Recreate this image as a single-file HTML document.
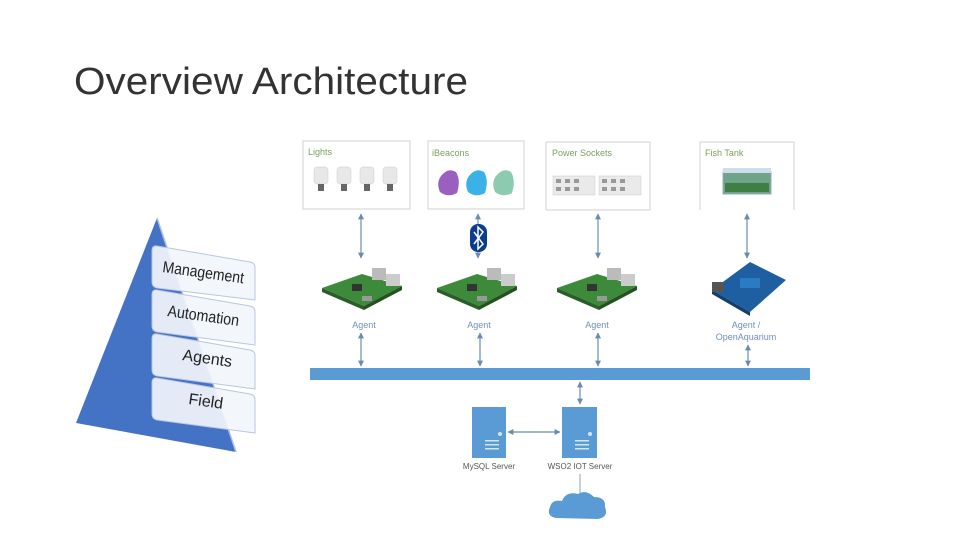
<!DOCTYPE html>
<html><head><meta charset="utf-8"><style>
html,body{margin:0;padding:0;background:#fff;}
svg{display:block;font-family:"Liberation Sans",sans-serif;}
</style></head><body>
<svg width="960" height="540" viewBox="0 0 960 540" xmlns="http://www.w3.org/2000/svg">
<defs>
<marker id="a" viewBox="0 0 10 10" refX="9" refY="5" markerWidth="5" markerHeight="5" orient="auto-start-reverse"><path d="M0,0L10,5L0,10z" fill="#6a8bb0"/></marker>
<g id="pi">
 <polygon points="0,22 40,8 80,20 42,40" fill="#3d8a3a"/>
 <polygon points="0,22 42,40 42,44 0,26" fill="#2a5e28"/>
 <polygon points="42,40 80,20 80,24 42,44" fill="#24521f"/>
 <rect x="50" y="2" width="14" height="12" fill="#bbb"/>
 <rect x="64" y="8" width="14" height="12" fill="#ccc"/>
 <rect x="30" y="18" width="10" height="7" fill="#333"/>
 <rect x="40" y="30" width="10" height="5" fill="#999"/>
</g>
</defs>
<text x="74" y="94" font-size="38" fill="#333" textLength="394" lengthAdjust="spacingAndGlyphs">Overview Architecture</text>

<!-- pyramid -->
<polygon points="157,218 76,423 236,452" fill="#4472c4"/>
<line x1="157" y1="218" x2="236" y2="452" stroke="#a9bfe6" stroke-width="1.5"/>
<g fill="#f2f5fb" fill-opacity="0.92" stroke="#b7c6e0" stroke-width="1">
<path d="M157,246 L250,262 Q255,263 255,268 L255,300 L157,288 Q152,287 152,282 L152,251 Q152,245 157,246z"/>
<path d="M157,290 L250,306 Q255,307 255,312 L255,345 L157,332 Q152,331 152,326 L152,295 Q152,289 157,290z"/>
<path d="M157,334 L250,350 Q255,351 255,356 L255,389 L157,376 Q152,375 152,370 L152,339 Q152,333 157,334z"/>
<path d="M157,378 L250,394 Q255,395 255,400 L255,433 L157,420 Q152,419 152,414 L152,383 Q152,377 157,378z"/>
</g>
<g font-size="16" fill="#222">
<text x="162" y="272" transform="rotate(8 162 272)" textLength="82" lengthAdjust="spacingAndGlyphs">Management</text>
<text x="167" y="316" transform="rotate(8 167 316)" textLength="72" lengthAdjust="spacingAndGlyphs">Automation</text>
<text x="182" y="360" transform="rotate(8 182 360)">Agents</text>
<text x="188" y="404" transform="rotate(8 188 404)">Field</text>
</g>

<!-- device boxes -->
<g fill="#fff" stroke="#d0d0d0" stroke-width="1">
<rect x="303" y="141" width="107" height="68"/>
<rect x="428" y="141" width="96" height="68"/>
<rect x="546" y="142" width="104" height="68"/>
<path d="M700,210 L700,142 L794,142 L794,210" fill="#fff"/>
</g>
<g font-size="9" fill="#7aa05a">
<text x="308" y="155">Lights</text>
<text x="432" y="156">iBeacons</text>
<text x="552" y="156">Power Sockets</text>
<text x="705" y="156">Fish Tank</text>
</g>
<g>
<g fill="#e8e8e8" stroke="#ccc" stroke-width="0.5">
<rect x="314" y="167" width="14" height="17" rx="3"/><rect x="337" y="167" width="14" height="17" rx="3"/>
<rect x="360" y="167" width="14" height="17" rx="3"/><rect x="383" y="167" width="14" height="17" rx="3"/>
</g>
<g fill="#666"><rect x="318" y="184" width="6" height="7"/><rect x="341" y="184" width="6" height="7"/><rect x="364" y="184" width="6" height="7"/><rect x="387" y="184" width="6" height="7"/></g>
</g>
<path d="M441,176 Q448,167 456,172 Q461,180 457,193 Q448,198 440,192 Q436,183 441,176z" fill="#9b5fbf"/>
<path d="M469,176 Q476,167 484,172 Q489,180 485,193 Q476,198 468,192 Q464,183 469,176z" fill="#3ab2e6"/>
<path d="M496,176 Q503,167 511,172 Q516,180 512,193 Q503,198 495,192 Q491,183 496,176z" fill="#8ccbb0"/>
<rect x="553" y="176" width="42" height="19" fill="#eaeaea" stroke="#ccc" stroke-width="0.5"/>
<rect x="599" y="176" width="42" height="19" fill="#eaeaea" stroke="#ccc" stroke-width="0.5"/>
<g fill="#999"><rect x="556" y="179" width="5" height="4"/><rect x="565" y="179" width="5" height="4"/><rect x="574" y="179" width="5" height="4"/><rect x="556" y="187" width="5" height="4"/><rect x="565" y="187" width="5" height="4"/><rect x="574" y="187" width="5" height="4"/>
<rect x="602" y="179" width="5" height="4"/><rect x="611" y="179" width="5" height="4"/><rect x="620" y="179" width="5" height="4"/><rect x="602" y="187" width="5" height="4"/><rect x="611" y="187" width="5" height="4"/><rect x="620" y="187" width="5" height="4"/></g>
<rect x="723" y="172" width="48" height="22" fill="#6fa38a" stroke="#9ab" stroke-width="1"/>
<rect x="723" y="168" width="48" height="5" fill="#cde"/>
<rect x="725" y="183" width="44" height="9" fill="#3f7f46"/>

<g stroke="#6a8bb0" stroke-width="1.2" marker-start="url(#a)" marker-end="url(#a)">
<line x1="361" y1="214" x2="361" y2="258"/>
<line x1="478" y1="214" x2="478" y2="258"/>
<line x1="598" y1="214" x2="598" y2="258"/>
<line x1="747" y1="214" x2="747" y2="258"/>
<line x1="361" y1="333" x2="361" y2="366"/>
<line x1="480" y1="333" x2="480" y2="366"/>
<line x1="598" y1="333" x2="598" y2="366"/>
<line x1="748" y1="345" x2="748" y2="366"/>
<line x1="580" y1="382" x2="580" y2="404"/>
<line x1="508" y1="432" x2="560" y2="432"/>
</g>
<rect x="470" y="224" width="17" height="28" rx="8" fill="#0a3d8f"/>
<path d="M474,232 L483,244 L478,249 L478,227 L483,232 L474,244" stroke="#fff" stroke-width="1.5" fill="none"/>

<use href="#pi" x="322" y="266"/>
<use href="#pi" x="437" y="266"/>
<use href="#pi" x="557" y="266"/>
<polygon points="712,290 750,262 786,280 750,312" fill="#1d5fa0"/>
<polygon points="712,290 750,312 750,316 712,294" fill="#123f70"/>
<rect x="712" y="282" width="12" height="10" fill="#555"/>
<rect x="740" y="278" width="20" height="10" fill="#2a7bc4"/>

<g font-size="9" fill="#6f90b8" text-anchor="middle">
<text x="364" y="328">Agent</text>
<text x="479" y="328">Agent</text>
<text x="597" y="328">Agent</text>
<text x="746" y="328">Agent /</text>
<text x="746" y="340">OpenAquarium</text>
</g>

<rect x="310" y="368" width="500" height="12" fill="#5b9bd5"/>

<rect x="472" y="407" width="34" height="51" fill="#5b9bd5"/>
<rect x="562" y="407" width="35" height="51" fill="#5b9bd5"/>
<g fill="#cfe6f4"><circle cx="500" cy="434" r="2"/><circle cx="590" cy="434" r="2"/>
<rect x="485" y="440" width="14" height="1.5"/><rect x="485" y="444" width="14" height="1.5"/><rect x="485" y="448" width="14" height="1.5"/>
<rect x="575" y="440" width="14" height="1.5"/><rect x="575" y="444" width="14" height="1.5"/><rect x="575" y="448" width="14" height="1.5"/></g>
<g font-size="8" fill="#555" text-anchor="middle">
<text x="489" y="469">MySQL Server</text>
<text x="580" y="469">WSO2 IOT Server</text>
</g>
<line x1="580" y1="474" x2="580" y2="495" stroke="#8aa" stroke-width="1"/>
<path d="M556,518 Q546,516 550,507 Q552,499 562,501 Q566,491 578,494 Q586,489 594,497 Q606,497 605,507 Q609,517 598,519 Z" fill="#5b9bd5"/>
</svg>
</body></html>
